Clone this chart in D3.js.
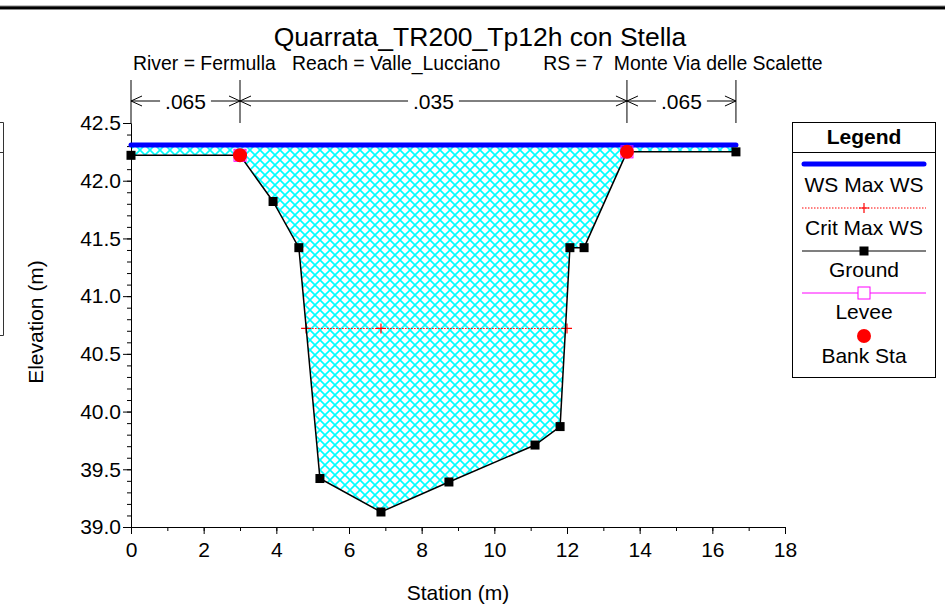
<!DOCTYPE html>
<html><head><meta charset="utf-8">
<script src="https://cdn.jsdelivr.net/npm/d3@7"></script>
<style>body{margin:0;background:#fff}svg{display:block;font-family:"Liberation Sans",Arial,sans-serif}</style>
</head><body>
<svg id="c" width="945" height="608"></svg>
<script>
const titleText = "Quarrata_TR200_Tp12h con Stella";
const subtitleText = "River = Fermulla   Reach = Valle_Lucciano        RS = 7  Monte Via delle Scalette";
const groundX = [0, 3.0, 3.91, 4.62, 5.2, 6.88, 8.75, 11.12, 11.81, 12.08, 12.47, 13.65, 16.65];
const groundY = [42.22, 42.22, 41.82, 41.42, 39.42, 39.13, 39.39, 39.71, 39.87, 41.42, 41.42, 42.25, 42.25];
const wsX = [0, 16.65];
const wsY = [42.31, 42.31];
const critX = [4.82, 6.88, 12.0];
const critY = [40.72, 40.72, 40.72];
const bankX = [3.0, 13.65];
const bankY = [42.22, 42.25];
const leveeX = [3.0, 13.65];
const leveeY = [42.22, 42.25];
const nStations = [0, 3.0, 13.65, 16.65];
const nValues = [".065", ".035", ".065"];
const xTicks = [0, 2, 4, 6, 8, 10, 12, 14, 16, 18];
const yTicks = [39.0, 39.5, 40.0, 40.5, 41.0, 41.5, 42.0, 42.5];
const legendLabels = ["WS Max WS", "Crit Max WS", "Ground", "Levee", "Bank Sta"];

const svg = d3.select("#c");
const x = d3.scaleLinear().domain([0, 18]).range([131, 785]);
const y = d3.scaleLinear().domain([39, 42.5]).range([527, 123]);

// top frame line
svg.append("rect").attr("x",0).attr("y",5.5).attr("width",945).attr("height",4.5).attr("fill","#888");
svg.append("rect").attr("x",0).attr("y",6.5).attr("width",945).attr("height",2.5).attr("fill","#000");
// left partial box artifact
const lb = svg.append("g").attr("fill","none").attr("stroke","#333").attr("stroke-width",1);
lb.append("path").attr("d","M0,122.5H3.5V335.5H0");
lb.append("path").attr("d","M0,152.5H3.5");

// pattern
const defs = svg.append("defs");
const pat = defs.append("pattern").attr("id","hatch").attr("patternUnits","userSpaceOnUse")
  .attr("width",10).attr("height",10);
pat.append("path").attr("d","M-1,-1L11,11M-1,11L11,-1").attr("stroke","#00ffff").attr("stroke-width",1.6);

// fill between WS and ground
const wsLevel = wsY[0];
const poly = [[x(wsX[0]), y(wsLevel)], [x(wsX[1]), y(wsLevel)]];
for (let i = groundX.length - 1; i >= 0; i--) poly.push([x(groundX[i]), y(groundY[i])]);
svg.append("path").attr("d", d3.line()(poly) + "Z").attr("fill","url(#hatch)").attr("stroke","none");

// axes
const xMinor = d3.range(0, 19, 1);
const yMinor = d3.range(39, 42.51, 0.1);
const gx = svg.append("g").attr("transform","translate(0,527)");
gx.call(d3.axisBottom(x).tickValues(xMinor).tickSize(4).tickFormat(""));
gx.call(g => g.select(".domain").remove());
const gx2 = svg.append("g").attr("transform","translate(0,527)")
  .call(d3.axisBottom(x).tickValues(xTicks).tickSize(7).tickPadding(8).tickFormat(d3.format("d")));
gx2.selectAll("text").attr("font-size",21).attr("font-family","Liberation Sans, Arial").attr("fill","#000");
const gy = svg.append("g").attr("transform","translate(131,0)");
gy.call(d3.axisLeft(y).tickValues(yMinor).tickSize(4).tickFormat(""));
gy.call(g => g.select(".domain").remove());
const gy2 = svg.append("g").attr("transform","translate(131,0)")
  .call(d3.axisLeft(y).tickValues(yTicks).tickSize(8).tickPadding(2).tickFormat(d3.format(".1f")));
gy2.selectAll("text").attr("font-size",21).attr("font-family","Liberation Sans, Arial").attr("fill","#000");
svg.selectAll(".domain").attr("stroke","#000");
svg.selectAll(".tick line").attr("stroke","#000");

// n-value dimension lines
const dimY = 101;
const nl = svg.append("g").attr("stroke","#000").attr("stroke-width",1).attr("fill","none");
nStations.forEach(s => nl.append("line").attr("x1",x(s)).attr("x2",x(s)).attr("y1",80).attr("y2",123));
nValues.forEach((v, i) => {
  const a = x(nStations[i]), b = x(nStations[i+1]), c = (a + b) / 2;
  const t = svg.append("text").attr("x",c).attr("y",dimY+7.5).attr("text-anchor","middle")
    .attr("font-size",21).text(v);
  const w = t.node().getComputedTextLength();
  nl.append("line").attr("x1",a).attr("x2",c - w/2 - 5).attr("y1",dimY).attr("y2",dimY);
  nl.append("line").attr("x1",c + w/2 + 5).attr("x2",b).attr("y1",dimY).attr("y2",dimY);
  nl.append("path").attr("d",`M${a+11},${dimY-5}L${a},${dimY}L${a+11},${dimY+5}`);
  nl.append("path").attr("d",`M${b-11},${dimY-5}L${b},${dimY}L${b-11},${dimY+5}`);
});

// crit WS
svg.append("line").attr("x1",x(critX[0])).attr("x2",x(critX[critX.length-1]))
  .attr("y1",y(critY[0])).attr("y2",y(critY[0])).attr("stroke","#ff0000").attr("stroke-width",1)
  .attr("stroke-dasharray","1.5,1.5");
critX.forEach((cx, i) => {
  const px = x(cx), py = y(critY[i]);
  svg.append("path").attr("d",`M${px-5},${py}H${px+5}M${px},${py-5}V${py+5}`).attr("stroke","#ff0000").attr("stroke-width",1.2);
});

// ground
svg.append("path").attr("d", d3.line().x((d,i)=>x(groundX[i])).y((d,i)=>y(groundY[i]))(groundX))
  .attr("fill","none").attr("stroke","#000").attr("stroke-width",1.5);

// WS line
svg.append("line").attr("x1",x(wsX[0])).attr("x2",x(wsX[1])).attr("y1",y(wsY[0])).attr("y2",y(wsY[1]))
  .attr("stroke","#0000ff").attr("stroke-width",5).attr("stroke-linecap","round");

// ground markers
groundX.forEach((gxv, i) => {
  svg.append("rect").attr("x",x(gxv)-4.5).attr("y",y(groundY[i])-4.5).attr("width",9).attr("height",9).attr("fill","#000");
});
// levee
leveeX.forEach((lx, i) => {
  svg.append("rect").attr("x",x(lx)-6).attr("y",y(leveeY[i])-6).attr("width",12).attr("height",12)
    .attr("fill","none").attr("stroke","#ff00ff").attr("stroke-width",1);
});
// bank
bankX.forEach((bx, i) => {
  svg.append("circle").attr("cx",x(bx)).attr("cy",y(bankY[i])).attr("r",7).attr("fill","#ff0000");
});

// titles
svg.append("text").attr("x",480).attr("y",46).attr("text-anchor","middle").attr("font-size",26.5).text(titleText);
svg.append("text").attr("x",133).attr("y",70).attr("font-size",19.4).style("white-space","pre").text(subtitleText);
svg.append("text").attr("x",458).attr("y",600).attr("text-anchor","middle").attr("font-size",21).text("Station (m)");
svg.append("text").attr("transform","translate(43,322) rotate(-90)").attr("text-anchor","middle").attr("font-size",21).text("Elevation (m)");

// legend
const L = svg.append("g");
L.append("rect").attr("x",792.5).attr("y",122.5).attr("width",143).attr("height",255).attr("fill","#fff").attr("stroke","#000").attr("stroke-width",1);
L.append("line").attr("x1",792.5).attr("x2",935.5).attr("y1",152.5).attr("y2",152.5).attr("stroke","#000");
L.append("text").attr("x",864).attr("y",144).attr("text-anchor","middle").attr("font-size",21).attr("font-weight","bold").text("Legend");
const lx1 = 802, lx2 = 926, lc = 864;
L.append("line").attr("x1",lx1+2).attr("x2",lx2-2).attr("y1",164).attr("y2",164).attr("stroke","#0000ff").attr("stroke-width",5).attr("stroke-linecap","round");
L.append("line").attr("x1",lx1).attr("x2",lx2).attr("y1",208).attr("y2",208).attr("stroke","#ff0000").attr("stroke-width",1).attr("stroke-dasharray","1.5,1.5");
L.append("path").attr("d",`M${lc-5},208H${lc+5}M${lc},203V213`).attr("stroke","#ff0000").attr("stroke-width",1.2);
L.append("line").attr("x1",lx1).attr("x2",lx2).attr("y1",251).attr("y2",251).attr("stroke","#000").attr("stroke-width",1.2);
L.append("rect").attr("x",lc-4.5).attr("y",246.5).attr("width",9).attr("height",9).attr("fill","#000");
L.append("line").attr("x1",lx1).attr("x2",lx2).attr("y1",293).attr("y2",293).attr("stroke","#ff00ff").attr("stroke-width",1);
L.append("rect").attr("x",lc-6).attr("y",287).attr("width",12).attr("height",12).attr("fill","#fff").attr("stroke","#ff00ff").attr("stroke-width",1);
L.append("circle").attr("cx",lc).attr("cy",336).attr("r",7).attr("fill","#ff0000");
const legY = [192, 235, 277, 319, 363];
legendLabels.forEach((t, i) => L.append("text").attr("x",lc).attr("y",legY[i]).attr("text-anchor","middle").attr("font-size",21).text(t));
</script>
</body></html>
